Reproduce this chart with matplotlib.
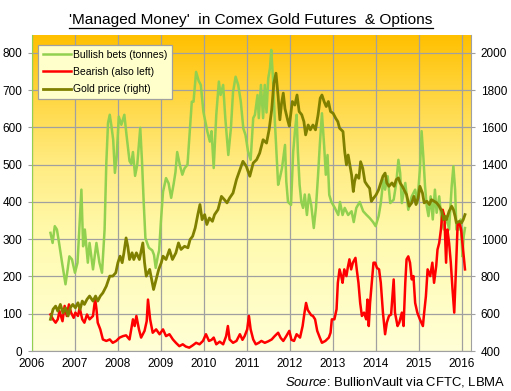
import numpy as np
import matplotlib
matplotlib.use("Agg")
import matplotlib.pyplot as plt
from matplotlib.colors import LinearSegmentedColormap
from matplotlib.lines import Line2D

plt.rcParams['font.family'] = ['Liberation Sans', 'DejaVu Sans']
plt.rcParams['mathtext.fontset'] = 'custom'
plt.rcParams['mathtext.it'] = 'Liberation Sans:italic'
plt.rcParams['mathtext.rm'] = 'Liberation Sans'

# Managed money, bullish (tonnes)
bull_years = [2006.43, 2006.48, 2006.53, 2006.58, 2006.63, 2006.70, 2006.78, 2006.83, 2006.87, 2006.93,
              2007.00, 2007.06, 2007.15, 2007.19, 2007.23, 2007.30, 2007.34, 2007.42, 2007.50, 2007.57,
              2007.63, 2007.69, 2007.73, 2007.77, 2007.81, 2007.85, 2007.89, 2007.93, 2007.97, 2008.02,
              2008.08, 2008.15, 2008.20, 2008.27, 2008.31, 2008.35, 2008.40, 2008.45, 2008.52, 2008.56,
              2008.60, 2008.64, 2008.72, 2008.80, 2008.84, 2008.88, 2008.93, 2008.96, 2009.00, 2009.05,
              2009.12, 2009.18, 2009.24, 2009.30, 2009.34, 2009.38, 2009.44, 2009.50, 2009.55, 2009.62,
              2009.68, 2009.72, 2009.76, 2009.82, 2009.88, 2009.93, 2009.99, 2010.08, 2010.14, 2010.18,
              2010.23, 2010.29, 2010.35, 2010.39, 2010.45, 2010.50, 2010.57, 2010.63, 2010.68, 2010.74,
              2010.80, 2010.86, 2010.92, 2010.97, 2011.03, 2011.09, 2011.15, 2011.19, 2011.25, 2011.28,
              2011.33, 2011.38, 2011.42, 2011.46, 2011.50, 2011.54, 2011.57, 2011.61, 2011.65, 2011.69,
              2011.73, 2011.77, 2011.82, 2011.89, 2011.92, 2011.96, 2012.03, 2012.08, 2012.12, 2012.16,
              2012.19, 2012.23, 2012.27, 2012.31, 2012.35, 2012.40, 2012.45, 2012.50, 2012.56, 2012.61,
              2012.66, 2012.70, 2012.75, 2012.80, 2012.84, 2012.88, 2012.92, 2012.97, 2013.05, 2013.13,
              2013.17, 2013.23, 2013.28, 2013.36, 2013.44, 2013.49, 2013.55, 2013.63, 2013.71, 2013.79,
              2013.86, 2013.94, 2014.00, 2014.07, 2014.12, 2014.18, 2014.22, 2014.28, 2014.34, 2014.42,
              2014.48, 2014.53, 2014.57, 2014.61, 2014.69, 2014.76, 2014.84, 2014.92, 2014.97, 2015.03,
              2015.07, 2015.11, 2015.15, 2015.19, 2015.23, 2015.28, 2015.33, 2015.38, 2015.42, 2015.48,
              2015.54, 2015.59, 2015.65, 2015.71, 2015.77, 2015.81, 2015.85, 2015.88, 2015.94, 2015.98,
              2016.02, 2016.05, 2016.08]
bull_tonnes = [317, 290, 335, 326, 290, 237, 179, 219, 254, 246,
               210, 237, 433, 281, 326, 237, 290, 219, 290, 237,
               210, 326, 504, 612, 634, 603, 567, 478, 520, 629,
               607, 634, 580, 510, 502, 534, 470, 500, 599, 511,
               400, 303, 277, 270, 258, 223, 255, 270, 346, 427,
               464, 450, 411, 450, 480, 534, 500, 473, 490, 500,
               599, 669, 669, 749, 725, 714, 642, 590, 562, 590,
               491, 634, 723, 687, 714, 625, 526, 597, 695, 736,
               714, 670, 597, 580, 535, 513, 625, 634, 687, 625,
               714, 625, 714, 640, 732, 759, 808, 732, 625, 535,
               446, 464, 491, 553, 455, 400, 392, 534, 588, 634,
               534, 446, 400, 384, 420, 365, 420, 392, 330, 384,
               473, 553, 638, 553, 473, 526, 419, 400, 384, 365,
               400, 365, 384, 365, 375, 346, 384, 400, 375, 365,
               357, 346, 335, 362, 397, 460, 433, 469, 397, 406,
               451, 513, 478, 397, 451, 379, 415, 433, 397, 487,
               590, 522, 442, 388, 362, 415, 353, 433, 371, 415,
               344, 326, 362, 326, 442, 496, 433, 326, 326, 353,
               254, 308, 330]

# Managed money, bearish (tonnes)
bear_years = [2006.43, 2006.49, 2006.55, 2006.60, 2006.64, 2006.71, 2006.76, 2006.81, 2006.86, 2006.91,
              2006.97, 2007.01, 2007.07, 2007.11, 2007.17, 2007.22, 2007.28, 2007.34, 2007.42, 2007.47,
              2007.50, 2007.53, 2007.59, 2007.65, 2007.73, 2007.81, 2007.88, 2007.96, 2008.04, 2008.12,
              2008.19, 2008.27, 2008.35, 2008.39, 2008.43, 2008.49, 2008.54, 2008.62, 2008.67, 2008.70,
              2008.75, 2008.81, 2008.89, 2008.97, 2009.05, 2009.12, 2009.20, 2009.28, 2009.35, 2009.43,
              2009.51, 2009.58, 2009.66, 2009.74, 2009.82, 2009.90, 2009.98, 2010.05, 2010.12, 2010.18,
              2010.23, 2010.29, 2010.37, 2010.45, 2010.52, 2010.56, 2010.60, 2010.68, 2010.76, 2010.84,
              2010.90, 2010.95, 2011.01, 2011.05, 2011.09, 2011.15, 2011.21, 2011.28, 2011.34, 2011.42,
              2011.50, 2011.58, 2011.65, 2011.73, 2011.79, 2011.85, 2011.92, 2011.99, 2012.04, 2012.10,
              2012.16, 2012.24, 2012.30, 2012.34, 2012.38, 2012.42, 2012.46, 2012.50, 2012.54, 2012.59,
              2012.64, 2012.70, 2012.75, 2012.83, 2012.91, 2012.95, 2012.98, 2013.04, 2013.09, 2013.12,
              2013.16, 2013.20, 2013.23, 2013.27, 2013.32, 2013.35, 2013.39, 2013.43, 2013.47, 2013.53,
              2013.56, 2013.60, 2013.64, 2013.68, 2013.73, 2013.78, 2013.81, 2013.84, 2013.87, 2013.91,
              2013.95, 2013.99, 2014.03, 2014.08, 2014.12, 2014.17, 2014.22, 2014.26, 2014.31, 2014.36,
              2014.42, 2014.45, 2014.51, 2014.55, 2014.61, 2014.65, 2014.69, 2014.72, 2014.76, 2014.80,
              2014.84, 2014.88, 2014.92, 2014.97, 2015.03, 2015.10, 2015.13, 2015.17, 2015.21, 2015.27,
              2015.32, 2015.36, 2015.41, 2015.44, 2015.48, 2015.52, 2015.56, 2015.60, 2015.64, 2015.67,
              2015.71, 2015.75, 2015.79, 2015.83, 2015.87, 2015.91, 2015.95, 2015.99, 2016.02, 2016.05,
              2016.08]
bear_tonnes = [98, 85, 76, 85, 107, 80, 121, 94, 125, 103,
               89, 103, 94, 116, 85, 76, 98, 85, 94, 140,
               113, 76, 58, 31, 27, 31, 22, 27, 36, 40,
               42, 31, 85, 67, 94, 58, 36, 54, 80, 138,
               85, 49, 58, 45, 58, 40, 45, 31, 22, 13,
               18, 12, 9, 15, 22, 18, 27, 45, 27, 30,
               36, 18, 25, 18, 40, 67, 31, 22, 27, 45,
               30, 40, 58, 94, 58, 31, 18, 22, 27, 22,
               26, 31, 40, 49, 35, 27, 40, 54, 30, 27,
               45, 36, 67, 100, 129, 110, 103, 96, 94, 85,
               54, 36, 22, 27, 36, 49, 85, 85, 112, 183,
               219, 201, 183, 219, 201, 223, 246, 219, 237, 250,
               219, 183, 129, 94, 103, 85, 138, 67, 129, 183,
               237, 237, 223, 219, 183, 103, 45, 76, 94, 98,
               192, 103, 67, 76, 103, 67, 183, 246, 254, 237,
               192, 201, 129, 103, 85, 67, 103, 147, 219, 201,
               237, 183, 228, 272, 290, 326, 379, 362, 237, 326,
               290, 237, 165, 103, 219, 344, 344, 326, 290, 254,
               219]

# Gold price, USD/oz (right axis)
gold_years = [2006.43, 2006.49, 2006.55, 2006.60, 2006.66, 2006.72, 2006.78, 2006.84, 2006.89, 2006.95,
              2007.01, 2007.07, 2007.12, 2007.17, 2007.22, 2007.28, 2007.34, 2007.42, 2007.48, 2007.53,
              2007.59, 2007.65, 2007.73, 2007.81, 2007.88, 2007.95, 2008.00, 2008.05, 2008.10, 2008.14,
              2008.19, 2008.23, 2008.27, 2008.33, 2008.37, 2008.43, 2008.50, 2008.58, 2008.62, 2008.66,
              2008.74, 2008.80, 2008.83, 2008.89, 2008.95, 2009.01, 2009.05, 2009.12, 2009.20, 2009.27,
              2009.35, 2009.41, 2009.47, 2009.55, 2009.63, 2009.68, 2009.74, 2009.80, 2009.86, 2009.91,
              2009.96, 2010.02, 2010.07, 2010.13, 2010.20, 2010.25, 2010.33, 2010.41, 2010.48, 2010.54,
              2010.60, 2010.68, 2010.76, 2010.84, 2010.91, 2010.99, 2011.07, 2011.15, 2011.23, 2011.30,
              2011.38, 2011.46, 2011.52, 2011.58, 2011.63, 2011.68, 2011.73, 2011.77, 2011.81, 2011.85,
              2011.89, 2011.95, 2011.99, 2012.06, 2012.12, 2012.17, 2012.22, 2012.28, 2012.33, 2012.37,
              2012.43, 2012.48, 2012.54, 2012.60, 2012.66, 2012.71, 2012.75, 2012.80, 2012.85, 2012.90,
              2012.95, 2013.01, 2013.07, 2013.12, 2013.16, 2013.24, 2013.28, 2013.32, 2013.36, 2013.40,
              2013.44, 2013.48, 2013.51, 2013.55, 2013.61, 2013.65, 2013.70, 2013.75, 2013.80, 2013.86,
              2013.90, 2013.95, 2014.01, 2014.07, 2014.12, 2014.17, 2014.22, 2014.26, 2014.31, 2014.38,
              2014.43, 2014.48, 2014.53, 2014.57, 2014.62, 2014.66, 2014.72, 2014.78, 2014.84, 2014.89,
              2014.94, 2014.99, 2015.03, 2015.09, 2015.13, 2015.19, 2015.25, 2015.30, 2015.36, 2015.42,
              2015.48, 2015.54, 2015.58, 2015.61, 2015.65, 2015.71, 2015.77, 2015.81, 2015.85, 2015.88,
              2015.95, 2016.00, 2016.04, 2016.08]
gold_price = [570, 624, 641, 614, 650, 605, 632, 588, 632, 650,
              632, 659, 624, 668, 650, 677, 695, 668, 695, 668,
              695, 712, 748, 802, 802, 820, 874, 909, 874, 927,
              1007, 962, 891, 927, 891, 927, 891, 980, 874, 802,
              838, 766, 730, 784, 838, 874, 909, 891, 944, 891,
              927, 980, 945, 962, 954, 998, 1016, 1061, 1132, 1186,
              1105, 1132, 1079, 1114, 1096, 1132, 1159, 1230, 1212, 1195,
              1221, 1248, 1320, 1373, 1418, 1391, 1338, 1409, 1427, 1462,
              1534, 1516, 1588, 1695, 1838, 1891, 1766, 1641, 1730, 1784,
              1700, 1641, 1607, 1739, 1720, 1774, 1685, 1668, 1631, 1560,
              1613, 1587, 1613, 1587, 1668, 1757, 1774, 1739, 1712, 1739,
              1685, 1676, 1649, 1631, 1596, 1578, 1470, 1399, 1452, 1399,
              1345, 1256, 1309, 1345, 1327, 1416, 1381, 1309, 1291, 1273,
              1203, 1220, 1238, 1266, 1302, 1338, 1355, 1302, 1284, 1302,
              1284, 1320, 1329, 1302, 1284, 1266, 1239, 1177, 1195, 1230,
              1186, 1221, 1284, 1248, 1195, 1204, 1186, 1212, 1204, 1195,
              1177, 1150, 1105, 1123, 1105, 1150, 1177, 1159, 1123, 1088,
              1096, 1088, 1105, 1132]

year_ticks = list(range(2006, 2017))
left_ticks = list(range(0, 900, 100))
right_ticks = list(range(400, 2001, 200))

fig = plt.figure(figsize=(5.11, 3.91), dpi=100)
ax = fig.add_axes([32 / 511, 40 / 391, 439 / 511, 316 / 391])
ymax = 848

# gradient background: orange at top fading to pale yellow
grad = LinearSegmentedColormap.from_list(
    'bg', [(0.0, '#FFFFD6'), (0.35, '#FFFBB0'), (0.6, '#FFEB80'), (0.85, '#FFD233'), (1.0, '#FFC000')])
ax.imshow(np.linspace(0, 1, 256).reshape(-1, 1), cmap=grad, origin='lower', aspect='auto',
          extent=[0, 1, 0, 1], transform=ax.transAxes, zorder=0)

green, red, olive = '#92D050', '#FF0000', '#808000'
l1, = ax.plot(bull_years, bull_tonnes, color=green, lw=1.8, zorder=2)
l2, = ax.plot(bear_years, bear_tonnes, color=red, lw=1.8, zorder=3)

ax.set_xlim(2006, 2016.22)
ax.set_ylim(0, ymax)
ax.set_xticks(year_ticks)
ax.set_xticklabels([str(y) for y in year_ticks])
ax.set_yticks(left_ticks)
ax.set_axisbelow(True)
ax.grid(True, color='#A0A0A0', lw=0.9)
ax.tick_params(axis='x', length=0, pad=5, labelsize=8.5)
ax.tick_params(axis='y', length=3, width=0.8, color='#A0A0A0', pad=4, labelsize=8.5)
for s in ['top', 'right']:
    ax.spines[s].set_visible(False)
ax.spines['left'].set_color(green)
ax.spines['bottom'].set_color('#A0A0A0')

ax2 = ax.twinx()
l3, = ax2.plot(gold_years, gold_price, color=olive, lw=2.0, zorder=4)
ax2.set_ylim(400, 400 + 2 * ymax)
ax2.set_yticks(right_ticks)
ax2.tick_params(axis='y', length=3, width=0.8, color='#A0A0A0', pad=4, labelsize=8.5)
for s in ['top', 'left', 'bottom']:
    ax2.spines[s].set_visible(False)
ax2.spines['right'].set_color('#A0A0A0')

leg = ax2.legend([l1, l2, l3], ['Bullish bets (tonnes)', 'Bearish (also left)', 'Gold price (right)'],
                 loc='upper left', bbox_to_anchor=(38 / 511, 1 - 45 / 391), bbox_transform=fig.transFigure,
                 fontsize=7.5, handlelength=2.7, handletextpad=0.25, labelspacing=0.7,
                 borderpad=0.45, borderaxespad=0, fancybox=False, framealpha=1)
leg.get_frame().set_facecolor('#FFFFCC')
leg.get_frame().set_edgecolor('#A0A0A0')
leg.get_frame().set_linewidth(0.9)

title = fig.text(0.491, 1 - 20 / 391, "'Managed Money'  in Comex Gold Futures  & Options",
                 ha='center', va='center', fontsize=11.1)
fig.text(0.988, 1 - 382 / 391, r"$\it{Source}$: BullionVault via CFTC, LBMA",
         ha='right', va='center', fontsize=9.4)

# underline the title
fig.canvas.draw()
bb = title.get_window_extent()
uy = bb.y0 - 1
fig.add_artist(Line2D([bb.x0 / fig.bbox.width, bb.x1 / fig.bbox.width],
                      [uy / fig.bbox.height, uy / fig.bbox.height],
                      transform=fig.transFigure, color='black', lw=0.9))

fig.savefig('out.png', dpi=100)
